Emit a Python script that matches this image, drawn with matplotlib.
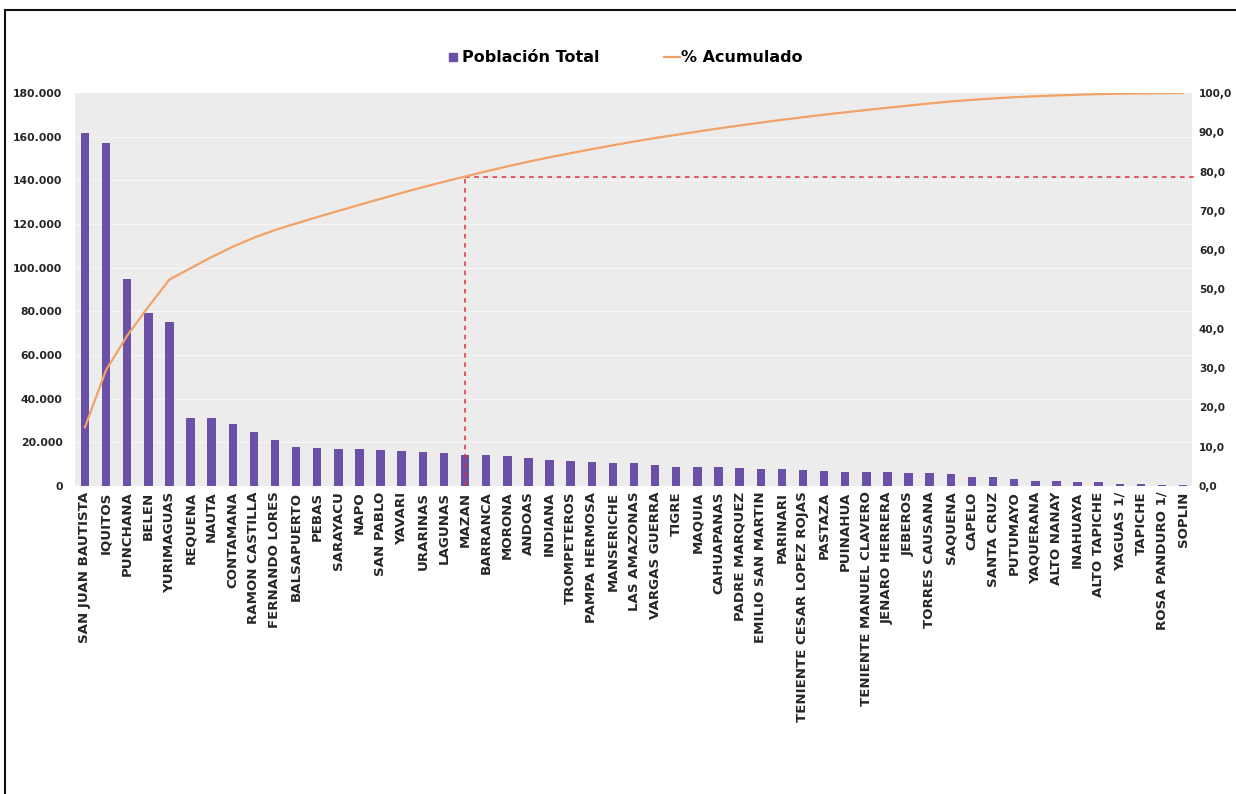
import matplotlib
matplotlib.use("Agg")
import matplotlib.pyplot as plt
import numpy as np
from matplotlib.ticker import FuncFormatter
from matplotlib.lines import Line2D
from matplotlib.patches import Rectangle

districts = [
    "SAN JUAN BAUTISTA", "IQUITOS", "PUNCHANA", "BELEN", "YURIMAGUAS", "REQUENA",
    "NAUTA", "CONTAMANA", "RAMON CASTILLA", "FERNANDO LORES", "BALSAPUERTO", "PEBAS",
    "SARAYACU", "NAPO", "SAN PABLO", "YAVARI", "URARINAS", "LAGUNAS", "MAZAN",
    "BARRANCA", "MORONA", "ANDOAS", "INDIANA", "TROMPETEROS", "PAMPA HERMOSA",
    "MANSERICHE", "LAS AMAZONAS", "VARGAS GUERRA", "TIGRE", "MAQUIA", "CAHUAPANAS",
    "PADRE MARQUEZ", "EMILIO SAN MARTIN", "PARINARI", "TENIENTE CESAR LOPEZ ROJAS",
    "PASTAZA", "PUINAHUA", "TENIENTE MANUEL CLAVERO", "JENARO HERRERA", "JEBEROS",
    "TORRES CAUSANA", "SAQUENA", "CAPELO", "SANTA CRUZ", "PUTUMAYO", "YAQUERANA",
    "ALTO NANAY", "INAHUAYA", "ALTO TAPICHE", "YAGUAS 1/", "TAPICHE",
    "ROSA PANDURO 1/", "SOPLIN",
]

poblacion = [
    161700, 157300, 94800, 79100, 75300, 31000,
    31000, 28300, 24900, 21100, 18000, 17600,
    16900, 16900, 16500, 16200, 15700, 15000, 14300,
    14400, 13600, 12900, 12100, 11400, 11000,
    10700, 10400, 9500, 8900, 8800, 8700,
    8200, 7900, 7600, 7300,
    6800, 6600, 6400, 6200, 6000,
    5800, 5600, 4300, 3900, 3400, 2500,
    2300, 2000, 1800, 1000, 800,
    600, 600,
]

pareto_cut = "MAZAN"

left_ticks = [0, 20000, 40000, 60000, 80000, 100000, 120000, 140000, 160000, 180000]
right_ticks = [0, 10, 20, 30, 40, 50, 60, 70, 80, 90, 100]

BAR_COLOR = "#6a50a7"
LINE_COLOR = "#f2a266"
RED = "#e0303a"
BG = "#ececec"
TXT = "#262626"

plt.rcParams['font.family'] = ['DejaVu Sans']

fig = plt.figure(figsize=(12.36, 7.94), dpi=100)
ax = fig.add_axes([75 / 1236, 1 - 486 / 794, (1192 - 75) / 1236, (486 - 93) / 794])

x = np.arange(len(districts))
vals = np.array(poblacion, dtype=float)
cum = np.cumsum(vals) / vals.sum() * 100.0

ax.set_facecolor(BG)
for t in left_ticks[1:-1]:
    ax.axhline(t, color="#f6f6f6", lw=0.8, zorder=0.5)
ax.bar(x, vals, width=0.4, color=BAR_COLOR, zorder=2)
ax.set_xlim(-0.47, len(districts) - 1 + 0.42)
ax.set_ylim(0, 180000)
ax.set_yticks(left_ticks)
ax.yaxis.set_major_formatter(FuncFormatter(lambda v, p: f"{int(v):,}".replace(",", ".")))
ax.set_xticks(x)
ax.set_xticklabels(districts, rotation=90, fontsize=9.6, fontweight="bold", color=TXT)
ax.tick_params(axis="y", length=0, pad=9)
ax.tick_params(axis="x", length=0, pad=4)
for lab in ax.get_yticklabels():
    lab.set_fontsize(7.8)
    lab.set_fontweight("bold")
    lab.set_color(TXT)
for s in ax.spines.values():
    s.set_visible(False)

ax2 = ax.twinx()
ax2.set_ylim(0, 100)
ax2.set_yticks(right_ticks)
ax2.yaxis.set_major_formatter(FuncFormatter(lambda v, p: f"{v:.1f}".replace(".", ",")))
ax2.tick_params(axis="y", length=0, pad=5)
for lab in ax2.get_yticklabels():
    lab.set_fontsize(7.6)
    lab.set_fontweight("bold")
    lab.set_color(TXT)
for s in ax2.spines.values():
    s.set_visible(False)

ax2.plot(x, cum, color=LINE_COLOR, lw=1.6, zorder=3)

ci = districts.index(pareto_cut)
ax2.plot([x[ci], x[ci]], [0, cum[ci]], color=RED, lw=1.1, ls=(0, (3, 3)), zorder=2.5)
ax2.plot([x[ci], len(districts) - 1 + 0.6], [cum[ci], cum[ci]], color=RED, lw=1.1,
         ls=(0, (3, 3)), zorder=2.5, clip_on=False)

handles = [
    Line2D([], [], marker="s", color=BAR_COLOR, ls="none", markersize=6),
    Line2D([], [], color=LINE_COLOR, lw=1.6),
]
fig.legend(handles, ["Población Total", "% Acumulado"], loc="center",
           bbox_to_anchor=(624 / 1236, 1 - 58 / 794), ncol=2, frameon=False,
           prop={"weight": "bold", "size": 11.5}, handlelength=1.0, handletextpad=0.1,
           columnspacing=4.0)

fig.patches.append(Rectangle((5 / 1236, -0.05), 1.2, 1.05 - 10 / 794,
                             transform=fig.transFigure, fill=False, edgecolor="#111111",
                             lw=1.5, zorder=10))

fig.savefig("out.png", dpi=100, facecolor="white")
